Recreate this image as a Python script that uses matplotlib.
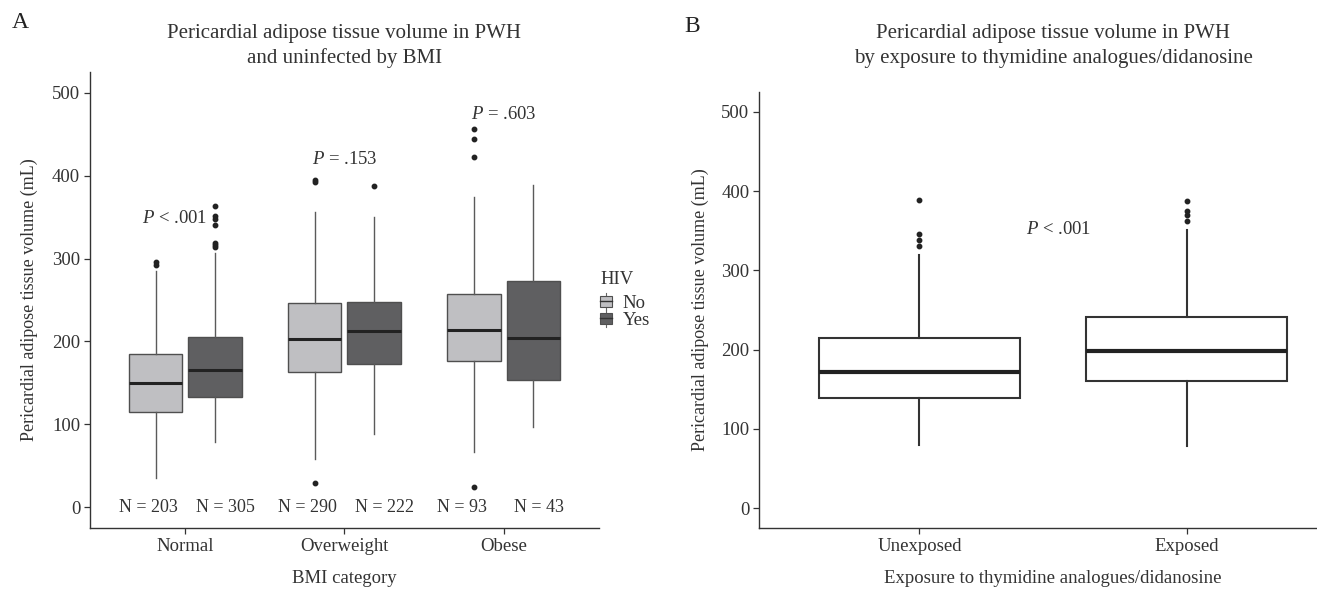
import matplotlib
matplotlib.use("Agg")
import matplotlib.pyplot as plt
from matplotlib.patches import Patch, Rectangle
from matplotlib.lines import Line2D
from matplotlib.legend_handler import HandlerPatch

plt.rcParams['font.family'] = 'Liberation Serif'
plt.rcParams['mathtext.fontset'] = 'custom'
plt.rcParams['mathtext.rm'] = 'Liberation Serif'
plt.rcParams['mathtext.it'] = 'Liberation Serif:italic'

# ---- panel A data ----
bmi_cats = ['Normal', 'Overweight', 'Obese']
no_q1 = [115, 163.5, 176.5]
no_med = [149.5, 203.5, 214]
no_q3 = [185, 246, 257]
no_lo = [35, 58, 66.5]
no_hi = [284.5, 356, 374]
no_out = [[292, 296], [29, 392, 394.5], [24, 422, 444, 456.5]]
yes_q1 = [133, 173, 153.5]
yes_med = [165.5, 212, 204.5]
yes_q3 = [205, 248, 273.5]
yes_lo = [78.5, 88, 96.5]
yes_hi = [306.5, 350, 389]
yes_out = [[314, 316, 319, 341, 348, 351, 363], [387.5], []]
n_no = [203, 290, 93]
n_yes = [305, 222, 43]
p_a = ['< .001', '= .153', '= .603']
p_a_x = [0.935, 2.0, 3.0]
p_a_y = [348, 420, 474]

# ---- panel B data ----
exp_cats = ['Unexposed', 'Exposed']
exp_q1 = [139.3, 160]
exp_med = [172, 198]
exp_q3 = [214.5, 241]
exp_lo = [79.5, 78.5]
exp_hi = [320, 351]
exp_out = [[331, 338, 345.5, 389], [362.5, 370, 374.5, 388]]
p_b = '< .001'
p_b_x, p_b_y = 1.52, 352

LIGHT = '#BFBFC2'
DARK = '#5F5F61'
EDGE = '#4F4F4F'
TXT = '#333333'
FS = 13.5
TFS = 15


def stats(q1, med, q3, lo, hi, out):
    return [dict(q1=a, med=b, q3=c, whislo=d, whishi=e, fliers=f)
            for a, b, c, d, e, f in zip(q1, med, q3, lo, hi, out)]


def style_axes(ax):
    for s in ['top', 'right']:
        ax.spines[s].set_visible(False)
    for s in ['left', 'bottom']:
        ax.spines[s].set_color(TXT)
        ax.spines[s].set_linewidth(1.0)
    ax.tick_params(colors=TXT, labelsize=FS, length=4, width=0.9, pad=3)
    ax.set_ylim(-25, 525)
    ax.set_yticks([0, 100, 200, 300, 400, 500])


class BoxKey(HandlerPatch):
    # little boxplot glyph like ggplot legend keys
    def create_artists(self, legend, orig_handle, xdescent, ydescent, width, height, fontsize, trans):
        x0, y0 = -xdescent, -ydescent
        cx = x0 + width / 2
        wl = Line2D([cx, cx], [y0 - height * 0.25, y0 + height * 1.25], color='#666666', lw=0.8, transform=trans)
        r = Rectangle((x0, y0), width, height, facecolor=orig_handle.get_facecolor(),
                      edgecolor=EDGE, lw=0.8, transform=trans)
        md = Line2D([x0, x0 + width], [y0 + height / 2] * 2, color='#333333', lw=1.0, transform=trans)
        return [wl, r, md]


fig = plt.figure(figsize=(13.17, 5.91), dpi=100)

# ================= panel A =================
axA = fig.add_axes([0.0683, 0.1066, 0.3865, 0.7716])
xc = list(range(1, len(bmi_cats) + 1))
off, w = 0.1875, 0.3375
for st, pos, fc in [(stats(no_q1, no_med, no_q3, no_lo, no_hi, no_out), [x - off for x in xc], LIGHT),
                    (stats(yes_q1, yes_med, yes_q3, yes_lo, yes_hi, yes_out), [x + off for x in xc], DARK)]:
    axA.bxp(st, positions=pos, widths=w, showcaps=False, patch_artist=True,
            boxprops=dict(facecolor=fc, edgecolor=EDGE, linewidth=1.0),
            whiskerprops=dict(color='#5A5A5A', linewidth=1.0),
            medianprops=dict(color='#222222', linewidth=2.2),
            flierprops=dict(marker='o', markersize=3.2, markerfacecolor='#222222',
                            markeredgecolor='#222222'))
style_axes(axA)
axA.set_xlim(0.4, 3.6)
axA.set_xticks(xc)
axA.set_xticklabels(bmi_cats)
for x, a, b in zip(xc, n_no, n_yes):
    axA.text(x - 0.42, 0, f'N = {a}', ha='left', va='center', fontsize=13, color=TXT)
    axA.text(x + 0.065, 0, f'N = {b}', ha='left', va='center', fontsize=13, color=TXT)
for t, x, y in zip(p_a, p_a_x, p_a_y):
    axA.text(x, y, r'$P$' + ' ' + t, ha='center', va='center', fontsize=FS, color=TXT)
axA.set_ylabel('Pericardial adipose tissue volume (mL)', fontsize=13, color=TXT, va='center')
axA.yaxis.set_label_coords(-0.12, 0.5)
axA.set_xlabel('BMI category', fontsize=FS, color=TXT, va='center')
axA.xaxis.set_label_coords(0.5, -0.11)
axA.text(0.5, 1.057, 'Pericardial adipose tissue volume in PWH\nand uninfected by BMI',
         transform=axA.transAxes, ha='center', va='center', fontsize=TFS, color=TXT,
         linespacing=1.4)
handles = [Patch(facecolor=LIGHT, edgecolor=EDGE, label='No'),
           Patch(facecolor=DARK, edgecolor=EDGE, label='Yes')]
fig.legend(handles=handles, loc='center left', bbox_to_anchor=(600 / 1317, 1 - 312 / 591),
           frameon=False, fontsize=FS, handlelength=0.65, handleheight=0.55,
           handletextpad=0.55, labelspacing=0.0, borderpad=0, borderaxespad=0,
           labelcolor=TXT, handler_map={Patch: BoxKey()})
fig.text(600 / 1317, 1 - 279 / 591, 'HIV', fontsize=FS, ha='left', va='center', color=TXT)

# ================= panel B =================
axB = fig.add_axes([0.5763, 0.1066, 0.4465, 0.7377])
xb = list(range(1, len(exp_cats) + 1))
axB.bxp(stats(exp_q1, exp_med, exp_q3, exp_lo, exp_hi, exp_out), positions=xb, widths=0.75,
        showcaps=False, patch_artist=True,
        boxprops=dict(facecolor='white', edgecolor='#333333', linewidth=1.5),
        whiskerprops=dict(color='#333333', linewidth=1.5),
        medianprops=dict(color='#222222', linewidth=3.0),
        flierprops=dict(marker='o', markersize=3.2, markerfacecolor='#222222',
                        markeredgecolor='#222222'))
style_axes(axB)
axB.set_xlim(0.4, 2.6)
axB.set_xticks(xb)
axB.set_xticklabels(exp_cats)
axB.text(p_b_x, p_b_y, r'$P$' + ' ' + p_b, ha='center', va='center', fontsize=FS, color=TXT)
axB.set_ylabel('Pericardial adipose tissue volume (mL)', fontsize=13, color=TXT, va='center')
axB.yaxis.set_label_coords(-0.1, 0.5)
axB.set_xlabel('Exposure to thymidine analogues/didanosine', fontsize=FS, color=TXT, va='center')
axB.xaxis.set_label_coords(0.5, -0.1147)
axB.text(0.5, 1.1055, 'Pericardial adipose tissue volume in PWH\nby exposure to thymidine analogues/didanosine',
         transform=axB.transAxes, ha='center', va='center', fontsize=TFS, color=TXT,
         linespacing=1.4)

fig.text(20 / 1317, 1 - 22 / 591, 'A', fontsize=17, ha='center', va='center', color='#222222')
fig.text(692 / 1317, 1 - 26 / 591, 'B', fontsize=17, ha='center', va='center', color='#222222')

fig.savefig('out.png', dpi=100)
